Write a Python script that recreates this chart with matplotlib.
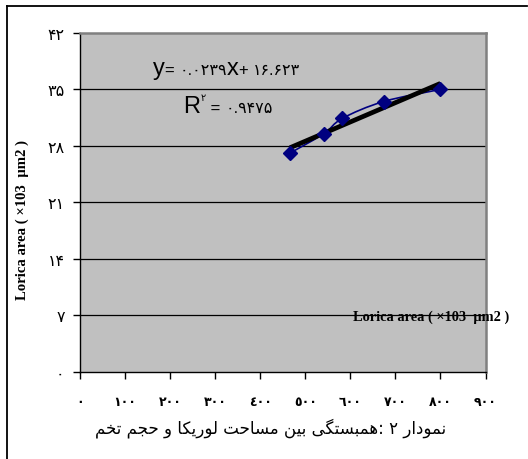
import matplotlib
matplotlib.use("Agg")
import matplotlib.pyplot as plt
from matplotlib.path import Path
from matplotlib.patches import PathPatch
from matplotlib.lines import Line2D
import numpy as np

# ---------------- data ----------------
x_vals = [466, 541, 582, 674, 800]
y_vals = [27.1, 29.5, 31.4, 33.5, 35.0]
slope = 0.0239
intercept = 16.623
y_ticks = [0, 7, 14, 21, 28, 35, 42]
y_tick_labels = ["۰", "۷", "۱۴", "۲۱", "۲۸", "۳۵", "۴۲"]
x_ticks = [0, 100, 200, 300, 400, 500, 600, 700, 800, 900]
x_tick_labels = ["٠", "١٠٠", "٢٠٠", "٣٠٠", "٤٠٠", "٥٠٠", "٦٠٠", "٧٠٠", "٨٠٠", "٩٠٠"]
axis_label = "Lorica area ( ×103  µm2 )"
eq_parts = [("y", "L"), ("= ", "M"), ("۰.۰۲۳۹", "D"), ("x", "L"), ("+ ", "M"), ("۱۶.۶۲۳", "D")]
r2_parts = [("R", "L"), ("۲", "S"), (" = ", "M"), ("۰.۹۴۷۵", "D")]
caption = "نمودار ۲ :همبستگی بین مساحت لوریکا و حجم تخم"

# ---------------- minimal Arabic/Persian shaping ----------------
FORMS = {
    'ا': ('\uFE8D', '\uFE8E', None, None),
    'ب': ('\uFE8F', '\uFE90', '\uFE91', '\uFE92'),
    'ت': ('\uFE95', '\uFE96', '\uFE97', '\uFE98'),
    'ج': ('\uFE9D', '\uFE9E', '\uFE9F', '\uFEA0'),
    'ح': ('\uFEA1', '\uFEA2', '\uFEA3', '\uFEA4'),
    'خ': ('\uFEA5', '\uFEA6', '\uFEA7', '\uFEA8'),
    'د': ('\uFEA9', '\uFEAA', None, None),
    'ر': ('\uFEAD', '\uFEAE', None, None),
    'س': ('\uFEB1', '\uFEB2', '\uFEB3', '\uFEB4'),
    'ل': ('\uFEDD', '\uFEDE', '\uFEDF', '\uFEE0'),
    'م': ('\uFEE1', '\uFEE2', '\uFEE3', '\uFEE4'),
    'ن': ('\uFEE5', '\uFEE6', '\uFEE7', '\uFEE8'),
    'ه': ('\uFEE9', '\uFEEA', '\uFEEB', '\uFEEC'),
    'و': ('\uFEED', '\uFEEE', None, None),
    'ک': ('\uFB8E', '\uFB8F', '\uFB90', '\uFB91'),
    'گ': ('\uFB92', '\uFB93', '\uFB94', '\uFB95'),
    'ی': ('\uFBFC', '\uFBFD', '\uFBFE', '\uFBFF'),
}


def shape(text):
    out = []
    for i, c in enumerate(text):
        if c not in FORMS:
            out.append(c)
            continue
        iso, fin, ini, med = FORMS[c]
        prev = text[i - 1] if i > 0 else None
        nxt = text[i + 1] if i + 1 < len(text) else None
        jp = prev in FORMS and FORMS[prev][2] is not None
        jn = ini is not None and nxt in FORMS
        if jp and jn:
            out.append(med)
        elif jp:
            out.append(fin)
        elif jn:
            out.append(ini)
        else:
            out.append(iso)
    return "".join(out)


def rtl(text):
    return shape(text)[::-1]


# ---------------- figure ----------------
W, H = 528, 460
fig = plt.figure(figsize=(W / 100, H / 100), dpi=100)
fig.patch.set_facecolor("white")


def fx(px):
    return px / W


def fy(py):
    return 1 - py / H


ax = fig.add_axes([fx(80), fy(372.5), fx(485.5) - fx(80), fy(34) - fy(372.5)])
ax.set_facecolor("#C0C0C0")
ax.set_xlim(0, 900)
ax.set_ylim(0, 42)

for s in ["top", "right"]:
    ax.spines[s].set_color("#808080")
    ax.spines[s].set_linewidth(1.8)
for s in ["left", "bottom"]:
    ax.spines[s].set_color("black")
    ax.spines[s].set_linewidth(1.0)

ax.set_yticks(y_ticks)
ax.set_yticklabels(y_tick_labels, fontfamily="DejaVu Sans", fontsize=11.5)
ax.set_xticks(x_ticks)
ax.set_xticklabels(x_tick_labels, fontfamily="DejaVu Sans", fontsize=9, fontweight="bold")
ax.tick_params(axis="y", direction="out", length=5, width=1, pad=6)
ax.tick_params(axis="x", direction="out", length=5, width=1, pad=12)

for yt in y_ticks[1:-1]:
    ax.axhline(yt, color="black", lw=0.9, zorder=1)

# smoothed series line (Catmull-Rom -> cubic Bezier)
pts = np.column_stack([x_vals, y_vals]).astype(float)
verts = [tuple(pts[0])]
codes = [Path.MOVETO]
n = len(pts)
for i in range(n - 1):
    p0 = pts[i - 1] if i > 0 else pts[i]
    p1 = pts[i]
    p2 = pts[i + 1]
    p3 = pts[i + 2] if i + 2 < n else pts[i + 1]
    c1 = p1 + (p2 - p0) / 6.0
    c2 = p2 - (p3 - p1) / 6.0
    verts += [tuple(c1), tuple(c2), tuple(p2)]
    codes += [Path.CURVE4] * 3
ax.add_patch(PathPatch(Path(verts, codes), facecolor="none", edgecolor="#000080", lw=1.2, zorder=3))

# trendline
tx = np.array([min(x_vals), max(x_vals)])
ax.plot(tx, slope * tx + intercept, color="black", lw=3.4, zorder=4, solid_capstyle="butt")

# markers
ax.plot(x_vals, y_vals, linestyle="none", marker="D", ms=7, color="#000080", zorder=5)

# axis labels
fig.text(fx(22), fy(220), axis_label, rotation=90, ha="center", va="center",
         fontfamily="Liberation Serif", fontweight="bold", fontsize=10.6)
fig.text(fx(353), fy(317), axis_label, ha="left", va="center",
         fontfamily="Liberation Serif", fontweight="bold", fontsize=10.4, zorder=10)

# equation, laid out piece by piece
fam = ["Liberation Sans", "DejaVu Sans"]
styles = {"L": dict(size=17, dy=0), "M": dict(size=12, dy=0), "D": dict(size=11.5, dy=0),
          "S": dict(size=7, dy=-12)}
renderer = fig.canvas.get_renderer()


def layout(parts, x0, baseline, gaps):
    x = x0
    for (txt, st), g in zip(parts, gaps):
        sty = styles[st]
        t = fig.text(fx(x), fy(baseline + sty["dy"]), txt, ha="left", va="baseline",
                     fontfamily=fam, fontsize=sty["size"])
        bb = t.get_window_extent(renderer)
        x += bb.width + g


layout(eq_parts, 153, 75, [0, 0, 0, 0, 0, 0])
layout(r2_parts, 183, 113, [1, 0, 0, 0])

# caption
fig.text(fx(271), fy(428), rtl(caption), ha="center", va="center",
         fontfamily="DejaVu Sans", fontsize=12)

# outer frame (top and left visible)
fig.add_artist(Line2D([fx(7), fx(7)], [fy(7), 0], color="black", lw=1.3, transform=fig.transFigure))
fig.add_artist(Line2D([fx(7), fx(527)], [fy(7), fy(7)], color="black", lw=1.3, transform=fig.transFigure))

fig.savefig("out.png", dpi=100)
